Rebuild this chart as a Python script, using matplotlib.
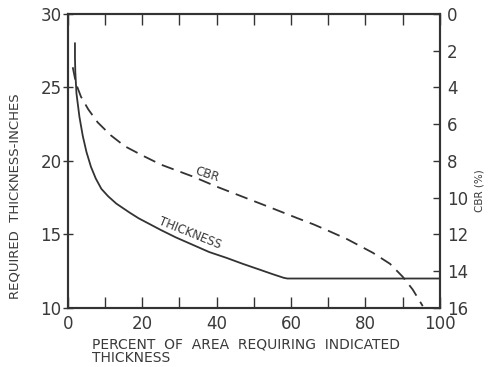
import matplotlib.pyplot as plt

# Valeurs
pct_epaisseur = [1.9, 1.9, 2.0, 2.3, 3.1, 4.0, 5.0, 6.2, 7.5, 9.0, 10.8, 13.0,
                 16.5, 19.0, 22.0, 25.0, 29.0, 33.5, 38.0, 42.7, 47.0, 51.6,
                 55.0, 58.0, 59.0, 100.0]
epaisseur = [28.0, 27.0, 26.0, 24.6, 23.0, 21.7, 20.6, 19.6, 18.8, 18.1, 17.6, 17.1,
             16.5, 16.1, 15.7, 15.3, 14.8, 14.3, 13.8, 13.4, 13.0, 12.6,
             12.3, 12.05, 12.0, 12.0]

pct_cbr = [1.3, 2.2, 3.5, 5.5, 8.0, 11.5, 15.3, 20.0, 25.0, 33.6, 40.0, 47.0,
           54.0, 61.5, 66.0, 70.0, 75.0, 82.0, 86.6, 90.0, 92.7, 95.4]
cbr = [2.9, 3.8, 4.5, 5.2, 5.9, 6.6, 7.2, 7.7, 8.2, 8.85, 9.4, 9.95,
       10.5, 11.1, 11.45, 11.8, 12.25, 13.0, 13.6, 14.3, 15.0, 15.9]

x_ticks = [0, 10, 20, 30, 40, 50, 60, 70, 80, 90, 100]
x_labels = ['0', '', '20', '', '40', '', '60', '', '80', '', '100']
y_ticks = [10, 15, 20, 25, 30]
cbr_ticks = [0, 2, 4, 6, 8, 10, 12, 14, 16]

couleur = '#333333'
texte = '#3a3a3a'

fig = plt.figure(figsize=(4.92, 3.67), dpi=100)
ax = fig.add_axes([0.138, 0.161, 0.756, 0.801])
ax2 = ax.twinx()

ax.plot(pct_epaisseur, epaisseur, color=couleur, lw=1.3)
ax2.plot(pct_cbr, cbr, color=couleur, lw=1.3, dashes=(7, 4))

ax.set_xlim(0, 100)
ax.set_ylim(10, 30)
ax2.set_ylim(16, 0)

ax.set_xticks(x_ticks)
ax.set_xticklabels(x_labels)
ax.set_yticks(y_ticks)
ax2.set_yticks(cbr_ticks)

ax.tick_params(axis='x', direction='in', length=8, width=1, top=True,
               pad=5, labelsize=12, colors=couleur, labelcolor=texte)
ax.tick_params(axis='y', direction='inout', length=7, width=1,
               pad=1, labelsize=12, colors=couleur, labelcolor=texte)
ax2.tick_params(axis='y', direction='in', length=5, width=1,
                pad=5, labelsize=12, colors=couleur, labelcolor=texte)

for a in (ax, ax2):
    for s in a.spines.values():
        s.set_linewidth(1.5)
        s.set_color(couleur)

# Etiquettes des courbes
ax2.text(37.4, 8.75, 'CBR', fontsize=8.5, color=texte, rotation=-18,
         ha='center', va='center')
ax.text(32.8, 15.1, 'THICKNESS', fontsize=8.5, color=texte, rotation=-22,
        ha='center', va='center')

# Titres des axes
fig.text(92 / 492, 1 - 337 / 367, 'PERCENT  OF  AREA  REQUIRING  INDICATED\nTHICKNESS',
         fontsize=10, color=texte, ha='left', va='top', linespacing=1.0)
fig.text(15 / 492, 1 - 196 / 367, 'REQUIRED  THICKNESS-INCHES', fontsize=9.5,
         color=texte, rotation=90, ha='center', va='center')
fig.text(479 / 492, 1 - 191 / 367, 'CBR (%)', fontsize=7.5, color=texte,
         rotation=90, ha='center', va='center')

fig.savefig('out.png', dpi=100)
